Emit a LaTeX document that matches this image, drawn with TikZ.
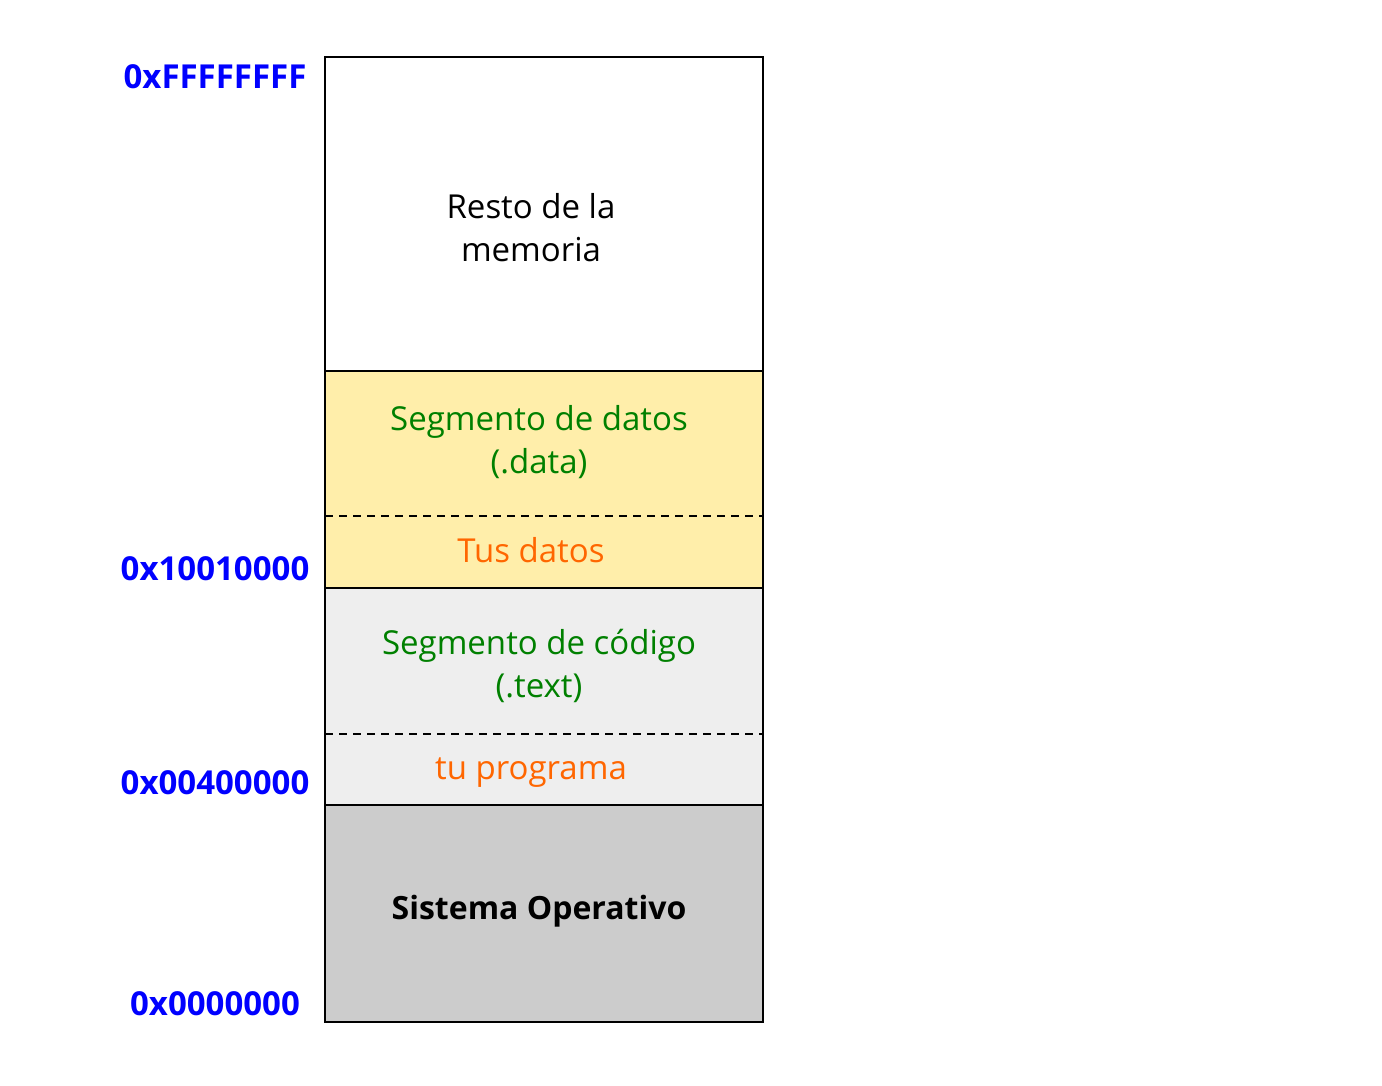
\documentclass[tikz,border=0pt]{standalone}
\usepackage{fontspec}
\setmainfont{Open Sans}
\definecolor{addr}{HTML}{0000FF}
\definecolor{lbl}{HTML}{008000}
\definecolor{mine}{HTML}{FF6600}
\definecolor{yel}{HTML}{FFEEAA}
\definecolor{lgray}{HTML}{EEEEEE}
\definecolor{dgray}{HTML}{CCCCCC}
\begin{document}
\begin{tikzpicture}[x=1pt,y=-1pt,
  region/.style={draw=black,line width=1.3pt},
  sep/.style={draw=black,dashed,dash pattern=on 8pt off 6pt,line width=2pt},
  txt/.style={font=\fontsize{33}{43}\selectfont,align=center,inner sep=0pt,anchor=base},
  adr/.style={font=\fontsize{33}{34}\selectfont\bfseries,text=addr,inner sep=0pt,anchor=base}]
\useasboundingbox (0,0) rectangle (1382,1085);
\fill[white] (0,0) rectangle (1382,1085);
\path[region,fill=white] (325,57) rectangle (763,371);
\path[region,fill=yel] (325,371) rectangle (763,588);
\path[region,fill=lgray] (325,588) rectangle (763,805);
\path[region,fill=dgray] (325,805) rectangle (763,1022);
\coordinate (d1a) at (325,516); \coordinate (d1b) at (763,516);
\coordinate (d2a) at (325,734); \coordinate (d2b) at (763,734);
\draw[sep] (d1a) -- (d1b);
\draw[sep] (d2a) -- (d2b);
% multi-line nodes: base anchor is the baseline of the last line
\node[txt] (resto) at (531,261) {Resto de la\\memoria};
\node[txt,text=lbl] (datos) at (539,473) {Segmento de datos\\(.data)};
\node[txt,text=mine] (tus) at (531,562) {Tus datos};
\node[txt,text=lbl] (codigo) at (539,697) {Segmento de código\\(.text)};
\node[txt,text=mine] (prog) at (531,779) {tu programa};
\node[txt,font=\fontsize{32}{43}\selectfont\bfseries] (so) at (539,919) {Sistema Operativo};
\node[adr] (a1) at (215,88) {0xFFFFFFFF};
\node[adr] (a2) at (215,580) {0x10010000};
\node[adr] (a3) at (215,794) {0x00400000};
\node[adr] (a4) at (215,1015) {0x0000000};
\end{tikzpicture}
\end{document}
